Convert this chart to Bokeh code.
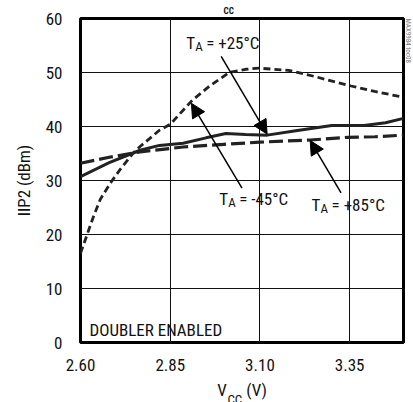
from bokeh.plotting import figure
from bokeh.models import Range1d, FixedTicker, PrintfTickFormatter, Label, Arrow, NormalHead, Title
from bokeh.embed import file_html
from bokeh.resources import INLINE

FONT = "Roboto Condensed"

# Data
vcc_25 = [2.60, 2.636, 2.655, 2.683, 2.71, 2.746, 2.766, 2.82, 2.85, 2.912, 2.96, 3.014, 3.06, 3.097, 3.18, 3.25, 3.354, 3.42, 3.50]
iip2_25 = [16.5, 23.3, 26.5, 29.5, 32.0, 35.0, 36.3, 39.3, 40.4, 44.9, 47.5, 50.0, 50.6, 50.8, 50.4, 49.3, 47.5, 46.5, 45.4]

vcc_m45 = [2.60, 2.68, 2.766, 2.82, 2.886, 2.95, 3.005, 3.06, 3.12, 3.20, 3.30, 3.39, 3.45, 3.50]
iip2_m45 = [30.7, 33.3, 35.6, 36.5, 36.9, 37.9, 38.7, 38.5, 38.4, 39.2, 40.2, 40.2, 40.7, 41.5]

vcc_85 = [2.60, 2.68, 2.766, 2.886, 3.00, 3.10, 3.24, 3.345, 3.42, 3.50]
iip2_85 = [33.2, 34.3, 35.3, 36.2, 36.7, 37.1, 37.5, 38.0, 38.1, 38.4]

x_ticks = [2.60, 2.85, 3.10, 3.35]
y_ticks = [0, 10, 20, 30, 40, 50, 60]

p = figure(width=413, height=402, output_backend="svg", toolbar_location=None,
           x_range=Range1d(2.60, 3.50), y_range=Range1d(0, 60),
           min_border_left=80, min_border_right=7, min_border_top=18, min_border_bottom=59)

p.outline_line_color = "black"
p.outline_line_width = 3
p.background_fill_color = "white"
p.border_fill_color = "white"

for ax in (p.xaxis[0], p.yaxis[0]):
    ax.axis_line_color = None
    ax.major_tick_line_color = None
    ax.minor_tick_line_color = None
    ax.major_tick_out = 0
    ax.major_tick_in = 0
    ax.major_label_text_font = FONT
    ax.major_label_text_font_size = "17px"
    ax.major_label_text_color = "#111111"
    ax.axis_label_text_font = FONT
    ax.axis_label_text_font_size = "17px"
    ax.axis_label_text_font_style = "normal"
    ax.axis_label_text_color = "#111111"

p.xaxis.ticker = FixedTicker(ticks=x_ticks)
p.xaxis.formatter = PrintfTickFormatter(format="%.2f")
p.yaxis.ticker = FixedTicker(ticks=y_ticks)
p.xaxis.major_label_standoff = 16
p.yaxis.major_label_standoff = 18
p.yaxis.axis_label = "IIP2 (dBm)"
p.yaxis.axis_label_standoff = 9
p.xaxis.axis_label = "V\u00a0\u00a0\u00a0\u00a0\u00a0(V)"
p.xaxis.axis_label_standoff = 6

p.xgrid.grid_line_color = "#111111"
p.ygrid.grid_line_color = "#111111"
p.xgrid.grid_line_width = 1
p.ygrid.grid_line_width = 1

p.line(vcc_85, iip2_85, line_color="#222222", line_width=3.2, line_dash="14 5")
p.line(vcc_m45, iip2_m45, line_color="#222222", line_width=3)
p.line(vcc_25, iip2_25, line_color="#222222", line_width=2.8, line_dash="7 4")

def arrow(x0, y0, x1, y1):
    p.add_layout(Arrow(end=NormalHead(size=14, fill_color="black", line_color="black", line_width=1),
                       x_start=x0, y_start=y0, x_end=x1, y_end=y1,
                       line_color="black", line_width=1.5))

arrow(2.992, 53.0, 3.12, 38.6)
arrow(3.05, 28.6, 2.909, 44.3)
arrow(3.326, 27.7, 3.24, 37.4)

def lab(x, y, text, size="17px", xo=0, yo=0):
    p.add_layout(Label(x=x, y=y, text=text, x_offset=xo, y_offset=yo,
                       text_font=FONT, text_font_size=size,
                       text_align="left", text_baseline="middle", text_color="#111111"))

def ta_label(x, y, rest):
    lab(x, y, "T")
    lab(x, y, "A", size="13px", xo=9, yo=-3)
    lab(x, y, rest, xo=20)

ta_label(2.8946, 55.4, "= +25°C")
ta_label(2.9865, 26.5, "= -45°C")
ta_label(3.244, 25.4, "= +85°C")

lab(2.625, 2.4, "DOUBLER ENABLED")

# subscript of the x axis label
p.add_layout(Title(text="CC", align="left", vertical_align="top", offset=147, standoff=-21, text_font=FONT,
                   text_font_size="13px", text_font_style="normal", text_color="#111111"), "below")

# partially visible title fragment
p.add_layout(Title(text="CC", align="left", offset=143, standoff=6, text_font=FONT,
                   text_font_size="9px", text_font_style="bold", text_color="#111111"), "above")

# watermark
p.add_layout(Title(text="MAX9984 toc08", align="left", offset=0, standoff=0, text_font=FONT,
                   text_font_size="7px", text_font_style="normal", text_color="#777777"), "right")

open("out.html", "w").write(file_html(p, INLINE))
